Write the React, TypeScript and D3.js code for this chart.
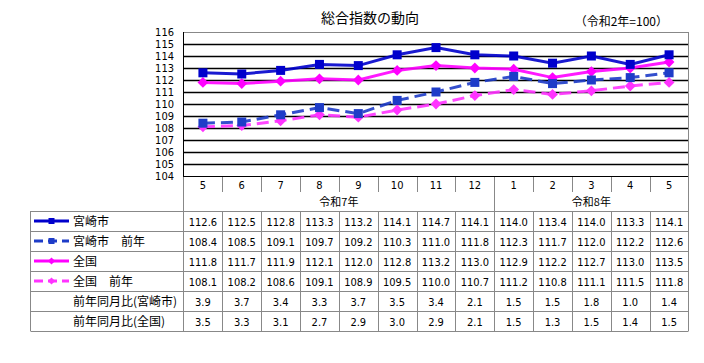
import React, { useEffect, useRef } from 'react';
import * as d3 from 'd3';

const months = ['5', '6', '7', '8', '9', '10', '11', '12', '1', '2', '3', '4', '5'];
const years = [
  { label: '令和7年', from: 0, to: 8 },
  { label: '令和8年', from: 8, to: 13 },
];
const miyazaki = [112.6, 112.5, 112.8, 113.3, 113.2, 114.1, 114.7, 114.1, 114.0, 113.4, 114.0, 113.3, 114.1];
const miyazakiPrev = [108.4, 108.5, 109.1, 109.7, 109.2, 110.3, 111.0, 111.8, 112.3, 111.7, 112.0, 112.2, 112.6];
const zenkoku = [111.8, 111.7, 111.9, 112.1, 112.0, 112.8, 113.2, 113.0, 112.9, 112.2, 112.7, 113.0, 113.5];
const zenkokuPrev = [108.1, 108.2, 108.6, 109.1, 108.9, 109.5, 110.0, 110.7, 111.2, 110.8, 111.1, 111.5, 111.8];
const yoyMiyazaki = [3.9, 3.7, 3.4, 3.3, 3.7, 3.5, 3.4, 2.1, 1.5, 1.5, 1.8, 1.0, 1.4];
const yoyZenkoku = [3.5, 3.3, 3.1, 2.7, 2.9, 3.0, 2.9, 2.1, 1.5, 1.3, 1.5, 1.4, 1.5];
const yTicks = d3.range(104, 117, 1);

const series = [
  { name: '宮崎市', values: miyazaki, color: '#0000cc', dash: null, marker: 'square' },
  { name: '宮崎市　前年', values: miyazakiPrev, color: '#1e3cc8', dash: '12,6', marker: 'square' },
  { name: '全国', values: zenkoku, color: '#ff00ff', dash: null, marker: 'diamond' },
  { name: '全国　前年', values: zenkokuPrev, color: '#ff33ff', dash: '12,6', marker: 'diamond' },
];
const textRows = [
  { name: '前年同月比(宮崎市)', values: yoyMiyazaki },
  { name: '前年同月比(全国)', values: yoyZenkoku },
];

export default function App() {
  const ref = useRef<SVGSVGElement>(null);

  useEffect(() => {
    const width = 704;
    const height = 363;
    const plotLeft = 183.5;
    const plotRight = 688.5;
    const plotTop = 32;
    const plotBottom = 176;
    const tableLeft = 30.5;
    const rowTop = 211;
    const rowH = 20;
    const grey = '#888';
    const jp = '"Noto Sans CJK JP", sans-serif';
    const num = '"Liberation Sans Narrow", "DejaVu Sans Condensed", sans-serif';

    const svg = d3.select(ref.current);
    svg.selectAll('*').remove();
    svg.attr('width', width).attr('height', height);

    const x = d3.scaleBand<number>()
      .domain(d3.range(months.length))
      .range([plotLeft, plotRight]);
    const cx = (i: number) => (x(i) as number) + x.bandwidth() / 2;
    const y = d3.scaleLinear().domain([104, 116]).range([plotBottom, plotTop]);

    // title
    svg.append('text')
      .attr('x', 370).attr('y', 23)
      .attr('text-anchor', 'middle')
      .style('font-family', jp).style('font-size', '14px')
      .text('総合指数の動向');
    svg.append('text')
      .attr('x', 668).attr('y', 26)
      .attr('text-anchor', 'end')
      .style('font-family', jp).style('font-size', '12px')
      .text('（令和2年=100）');

    // grid
    svg.append('g').selectAll('line')
      .data(yTicks.filter(d => d > 104 && d < 116))
      .enter().append('line')
      .attr('x1', plotLeft).attr('x2', plotRight)
      .attr('y1', d => Math.round(y(d)) + 0.5).attr('y2', d => Math.round(y(d)) + 0.5)
      .attr('stroke', '#000').attr('stroke-width', 1.3);

    // plot frame
    svg.append('path')
      .attr('d', `M${plotLeft},${plotTop + 0.5}H${plotRight}V${plotBottom}`)
      .attr('fill', 'none').attr('stroke', grey);
    svg.append('line')
      .attr('x1', plotLeft).attr('x2', plotLeft).attr('y1', plotTop).attr('y2', plotBottom + 1)
      .attr('stroke', '#000');
    svg.append('line')
      .attr('x1', plotLeft).attr('x2', plotRight).attr('y1', plotBottom + 0.5).attr('y2', plotBottom + 0.5)
      .attr('stroke', '#000');

    // y labels
    svg.append('g').selectAll('text')
      .data(yTicks)
      .enter().append('text')
      .attr('x', 174).attr('y', d => y(d) + 4)
      .attr('text-anchor', 'end')
      .style('font-family', num).style('font-size', '11px')
      .text(d => d);

    // lines
    const line = d3.line<number>().x((d, i) => cx(i)).y(d => y(d));
    const drawMarker = (g: any, shape: string, px: number, py: number, color: string, s: number) => {
      if (shape === 'square') {
        g.append('rect')
          .attr('x', px - s / 2).attr('y', py - s / 2).attr('width', s).attr('height', s)
          .attr('fill', color);
      } else {
        const r = s * 0.6;
        g.append('path')
          .attr('d', `M${px},${py - r}L${px + r},${py}L${px},${py + r}L${px - r},${py}Z`)
          .attr('fill', color);
      }
    };
    [...series].reverse().forEach(s => {
      const g = svg.append('g');
      g.append('path')
        .attr('d', line(s.values))
        .attr('fill', 'none')
        .attr('stroke', s.color)
        .attr('stroke-width', 3)
        .attr('stroke-dasharray', s.dash)
        .attr('stroke-opacity', 0.9);
      s.values.forEach((v, i) => drawMarker(g, s.marker, cx(i), y(v), s.color, 9));
    });

    // month header
    const table = svg.append('g');
    months.forEach((m, i) => {
      table.append('text')
        .attr('x', cx(i)).attr('y', 189)
        .attr('text-anchor', 'middle')
        .style('font-family', num).style('font-size', '11px')
        .text(m);
      if (i > 0) {
        const xx = Math.round(x(i) as number) + 0.5;
        table.append('line')
          .attr('x1', xx).attr('x2', xx).attr('y1', plotBottom + 1).attr('y2', 192)
          .attr('stroke', grey);
      }
    });
    years.forEach(yr => {
      const x0 = x(yr.from) as number;
      const x1 = yr.to < months.length ? (x(yr.to) as number) : plotRight;
      table.append('text')
        .attr('x', (x0 + x1) / 2).attr('y', 206)
        .attr('text-anchor', 'middle')
        .style('font-family', jp).style('font-size', '11px')
        .text(yr.label);
      if (yr.to < months.length) {
        const xx = Math.round(x1) + 0.5;
        table.append('line')
          .attr('x1', xx).attr('x2', xx).attr('y1', 192).attr('y2', rowTop)
          .attr('stroke', grey);
      }
    });
    table.append('line')
      .attr('x1', plotLeft).attr('x2', plotLeft).attr('y1', plotBottom + 1).attr('y2', rowTop + rowH * 6)
      .attr('stroke', grey);

    // data rows
    const rows = [
      ...series.map(s => ({ name: s.name, values: s.values, s })),
      ...textRows.map(r => ({ name: r.name, values: r.values, s: null as any })),
    ];
    rows.forEach((r, ri) => {
      const top = rowTop + ri * rowH;
      const mid = top + rowH / 2;
      if (r.s) {
        const lg = table.append('g');
        lg.append('line')
          .attr('x1', 34).attr('x2', 69).attr('y1', mid).attr('y2', mid)
          .attr('stroke', r.s.color).attr('stroke-width', 3)
          .attr('stroke-dasharray', r.s.dash ? '9,5' : null);
        drawMarker(lg, r.s.marker, 51.5, mid, r.s.color, r.s.marker === 'square' ? 6 : 6);
      }
      table.append('text')
        .attr('x', 73).attr('y', mid + 4.5)
        .style('font-family', jp).style('font-size', '12px')
        .text(r.name);
      r.values.forEach((v, i) => {
        table.append('text')
          .attr('x', cx(i)).attr('y', mid + 4.5)
          .attr('text-anchor', 'middle')
          .style('font-family', num).style('font-size', '11px')
          .text(v.toFixed(1));
      });
    });
    d3.range(7).forEach(k => {
      const yy = rowTop + k * rowH + 0.5;
      table.append('line')
        .attr('x1', tableLeft).attr('x2', plotRight).attr('y1', yy).attr('y2', yy)
        .attr('stroke', grey);
    });
    d3.range(1, months.length).forEach(i => {
      const xx = Math.round(x(i) as number) + 0.5;
      table.append('line')
        .attr('x1', xx).attr('x2', xx).attr('y1', rowTop).attr('y2', rowTop + rowH * 6)
        .attr('stroke', grey);
    });
    table.append('line')
      .attr('x1', tableLeft).attr('x2', tableLeft).attr('y1', rowTop).attr('y2', rowTop + rowH * 6)
      .attr('stroke', grey);
    table.append('line')
      .attr('x1', plotRight).attr('x2', plotRight).attr('y1', plotTop).attr('y2', rowTop + rowH * 6)
      .attr('stroke', grey);
  }, []);

  return (
    <div style={{ position: 'absolute', left: 0, top: 0, background: '#fff' }}>
      <svg ref={ref} />
    </div>
  );
}
